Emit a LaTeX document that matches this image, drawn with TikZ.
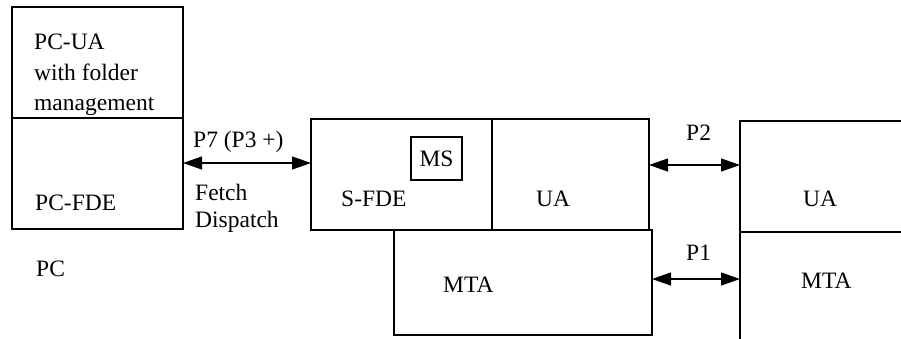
\documentclass[tikz,border=0pt]{standalone}
\usepackage{fontspec}
\setmainfont{Liberation Serif}
\usetikzlibrary{arrows.meta}
\begin{document}
\begin{tikzpicture}[x=1pt,y=-1pt,
  box/.style={draw,line width=1.4pt,rectangle,anchor=north west,inner sep=0pt,outer sep=0pt},
  lbl/.style={anchor=base west,inner sep=0pt,font=\fontsize{23.5}{30}\selectfont},
  biarr/.style={line width=1.2pt,{Triangle[length=19pt,width=13pt]}-{Triangle[length=19pt,width=13pt]}}]
\clip (0,0) rectangle (901,339);
\useasboundingbox (0,0) rectangle (901,339);
% left PC box
\node[box,minimum width=171pt,minimum height=111pt] (pcua) at (12,7) {};
\node[box,minimum width=171pt,minimum height=111pt] (pcfde) at (12,118) {};
\node[lbl] (t1) at (34,50) {PC-UA};
\node[lbl] (t2) at (34,81) {with folder};
\node[lbl] (t3) at (34,111) {management};
\node[lbl] (t4) at (35,210) {PC-FDE};
\node[lbl] (t5) at (36,276) {PC};
% middle
\node[box,minimum width=181pt,minimum height=111pt] (sfde) at (311,119) {};
\node[box,minimum width=157pt,minimum height=111pt] (uam) at (492,119) {};
\node[box,minimum width=258pt,minimum height=105pt] (mtam) at (394,230) {};
\node[box,minimum width=51pt,minimum height=43pt] (ms) at (411,137) {};
\node[inner sep=0pt,font=\fontsize{23.5}{30}\selectfont] (mst) at (ms.center) {MS};
\node[lbl] (t6) at (341,206) {S-FDE};
\node[lbl] (t7) at (536,206) {UA};
\node[lbl] (t8) at (443,292) {MTA};
% right (cut off)
\node[box,minimum width=200pt,minimum height=111pt] (uar) at (740,121) {};
\node[box,minimum width=200pt,minimum height=130pt] (mtar) at (740,232) {};
\node[lbl] (t9) at (803,206) {UA};
\node[lbl] (t10) at (801,288) {MTA};
% arrows
\coordinate (y7) at (0,163);
\coordinate (y2) at (0,165);
\coordinate (y1) at (0,279);
\draw[biarr] (pcfde.east |- y7) -- (sfde.west |- y7);
\draw[biarr] (uam.east |- y2) -- (uar.west |- y2);
\draw[biarr] (mtam.east |- y1) -- (mtar.west |- y1);
\node[lbl] (p7) at (193,148) {P7 (P3 +)};
\node[lbl] (f1) at (195,200) {Fetch};
\node[lbl] (f2) at (195,227) {Dispatch};
\node[lbl] (p2) at (686,141) {P2};
\node[lbl] (p1) at (686,260) {P1};
\end{tikzpicture}
\end{document}
